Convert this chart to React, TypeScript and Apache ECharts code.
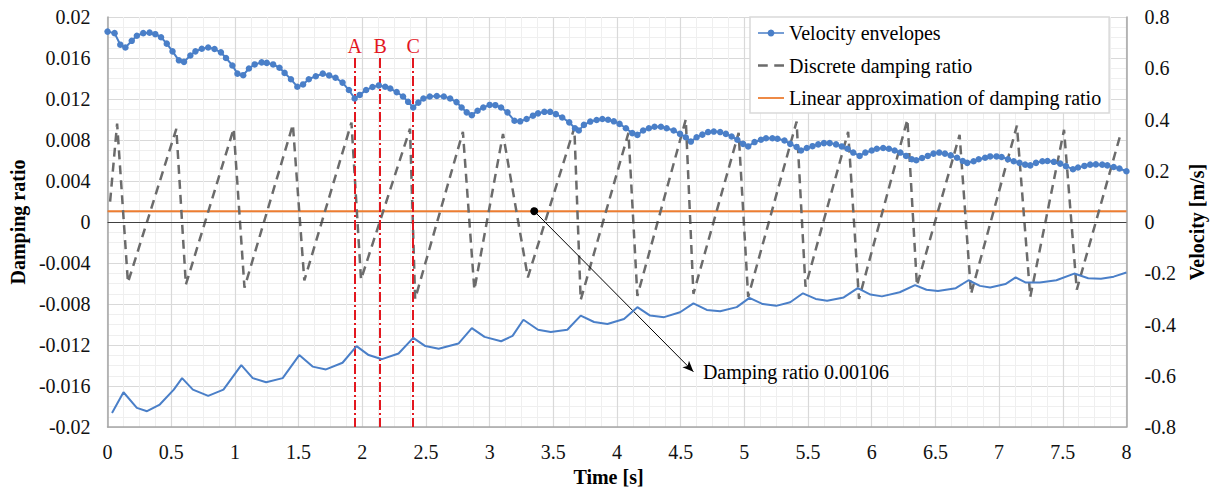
import React, { useEffect, useRef } from "react";
import * as echarts from "echarts";

// ---------- data ----------
const upperTime = [0,0.055,0.1,0.14,0.19,0.23,0.28,0.33,0.375,0.42,0.465,0.51,0.56,0.6,0.65,0.69,0.74,0.79,0.84,0.89,0.93,0.98,1.02,1.065,1.11,1.155,1.21,1.25,1.3,1.35,1.39,1.44,1.49,1.535,1.58,1.635,1.69,1.74,1.79,1.845,1.895,1.94,1.98,2.03,2.08,2.13,2.18,2.22,2.27,2.32,2.36,2.4,2.44,2.48,2.53,2.585,2.64,2.69,2.74,2.78,2.82,2.86,2.905,2.95,3.0,3.045,3.09,3.14,3.195,3.24,3.29,3.34,3.38,3.43,3.475,3.52,3.57,3.625,3.67,3.7,3.74,3.79,3.84,3.885,3.93,3.975,4.02,4.07,4.12,4.16,4.205,4.25,4.295,4.345,4.39,4.445,4.495,4.54,4.58,4.625,4.67,4.715,4.76,4.81,4.855,4.9,4.945,4.99,5.03,5.08,5.13,5.17,5.22,5.26,5.315,5.36,5.41,5.445,5.49,5.535,5.58,5.625,5.67,5.72,5.765,5.81,5.855,5.905,5.95,6.0,6.04,6.09,6.135,6.18,6.225,6.27,6.315,6.35,6.395,6.44,6.485,6.53,6.575,6.62,6.67,6.715,6.75,6.8,6.84,6.89,6.93,6.98,7.02,7.07,7.115,7.16,7.205,7.245,7.29,7.34,7.38,7.43,7.48,7.525,7.58,7.62,7.67,7.715,7.76,7.81,7.85,7.9,7.945,8.0];
const upperVelocity = [0.743,0.737,0.692,0.681,0.707,0.727,0.737,0.739,0.733,0.721,0.696,0.666,0.631,0.625,0.65,0.666,0.676,0.681,0.675,0.662,0.64,0.611,0.579,0.573,0.599,0.615,0.623,0.621,0.615,0.602,0.582,0.557,0.528,0.537,0.557,0.569,0.579,0.572,0.563,0.544,0.515,0.482,0.496,0.515,0.527,0.533,0.528,0.521,0.507,0.49,0.469,0.447,0.466,0.482,0.49,0.492,0.49,0.482,0.468,0.447,0.428,0.417,0.434,0.447,0.457,0.456,0.447,0.428,0.395,0.393,0.402,0.415,0.424,0.43,0.43,0.421,0.408,0.389,0.366,0.357,0.379,0.392,0.398,0.402,0.399,0.393,0.383,0.366,0.347,0.34,0.357,0.366,0.372,0.372,0.366,0.357,0.344,0.331,0.314,0.331,0.341,0.351,0.353,0.351,0.344,0.334,0.321,0.305,0.295,0.312,0.321,0.327,0.327,0.325,0.318,0.305,0.293,0.279,0.289,0.296,0.303,0.308,0.308,0.303,0.295,0.286,0.271,0.258,0.271,0.279,0.286,0.289,0.286,0.279,0.271,0.258,0.245,0.241,0.25,0.258,0.267,0.271,0.267,0.26,0.251,0.238,0.231,0.237,0.245,0.251,0.256,0.256,0.254,0.245,0.237,0.231,0.224,0.221,0.231,0.237,0.238,0.235,0.228,0.218,0.206,0.213,0.219,0.224,0.225,0.224,0.221,0.215,0.209,0.198];

const lowerTime = [0.035,0.125,0.23,0.31,0.41,0.52,0.585,0.67,0.79,0.91,1.05,1.14,1.245,1.375,1.505,1.61,1.715,1.845,1.955,2.05,2.155,2.285,2.4,2.495,2.6,2.755,2.86,2.96,3.09,3.18,3.265,3.38,3.48,3.61,3.715,3.82,3.925,4.055,4.16,4.26,4.37,4.495,4.6,4.705,4.81,4.94,5.04,5.145,5.25,5.36,5.46,5.56,5.65,5.78,5.89,5.99,6.08,6.22,6.34,6.43,6.52,6.66,6.76,6.85,6.93,7.05,7.13,7.21,7.32,7.45,7.59,7.7,7.8,7.9,8.0];
const lowerVelocity = [-0.745,-0.664,-0.725,-0.738,-0.712,-0.654,-0.609,-0.654,-0.678,-0.654,-0.558,-0.609,-0.625,-0.609,-0.519,-0.564,-0.575,-0.549,-0.484,-0.519,-0.535,-0.513,-0.452,-0.484,-0.494,-0.474,-0.414,-0.448,-0.465,-0.444,-0.381,-0.42,-0.429,-0.42,-0.365,-0.39,-0.398,-0.378,-0.332,-0.365,-0.371,-0.352,-0.317,-0.343,-0.348,-0.332,-0.296,-0.32,-0.327,-0.313,-0.278,-0.3,-0.307,-0.294,-0.258,-0.283,-0.29,-0.274,-0.246,-0.264,-0.269,-0.258,-0.227,-0.249,-0.255,-0.242,-0.216,-0.236,-0.236,-0.227,-0.201,-0.219,-0.221,-0.213,-0.197];

const dampTime = [0.02,0.075,0.16,0.54,0.615,0.99,1.075,1.455,1.545,1.915,1.99,2.375,2.415,2.79,2.88,3.105,3.3,3.665,3.715,4.09,4.16,4.54,4.6,4.955,5.03,5.41,5.48,5.815,5.9,6.28,6.355,6.69,6.78,7.14,7.245,7.51,7.61,7.95];
const dampRatio = [0.002,0.0096,-0.0059,0.0091,-0.0061,0.0091,-0.0064,0.0095,-0.0057,0.0097,-0.0056,0.0091,-0.0075,0.0088,-0.0066,0.0086,-0.0054,0.0092,-0.0076,0.0087,-0.0072,0.01,-0.007,0.0087,-0.0073,0.0098,-0.0063,0.0088,-0.0075,0.01,-0.0062,0.0085,-0.007,0.0094,-0.0073,0.009,-0.0066,0.0084];

const linearDamping = 0.00106;
const timeRange = [0, 8];

const markerNames = ["A", "B", "C"];
const markerTimes = [1.94, 2.14, 2.4];
const markerTop = 0.016;

const annotationFrom = [3.35, linearDamping];
const annotationTo = [4.6, -0.0146];
const annotationText = "Damping ratio 0.00106";

const seriesNames = [
  "Velocity envelopes",
  "Discrete damping ratio",
  "Linear approximation of damping ratio",
];

const FONT = "'Liberation Serif', 'Times New Roman', Times, serif";
const BLUE = "#4a7fc8";
const RED = "#e3171f";
const GRAY = "#6b6b6b";
const ORANGE = "#ed7d31";

// legend icons (drawn in a 26-wide box)
const ICON_VELOCITY =
  "path://M0,2.7 L9.6,2.7 A3.5,3.5 0 0 1 16.4,2.7 L26,2.7 L26,4.3 L16.4,4.3 A3.5,3.5 0 0 1 9.6,4.3 L0,4.3 Z";
const ICON_DASHED = "path://M0,0 L9,0 L9,2.4 L0,2.4 Z M15,0 L24,0 L24,2.4 L15,2.4 Z";
const ICON_SOLID = "path://M0,0 L26,0 L26,1.8 L0,1.8 Z";

function pairs(xs: number[], ys: number[]) {
  return xs.map((x, i) => [x, ys[i]]);
}

export default function App() {
  const ref = useRef<HTMLDivElement>(null);

  useEffect(() => {
    if (!ref.current) return;
    const chart = echarts.init(ref.current, undefined, { renderer: "svg" });

    const redLines = markerTimes.map((t, i) => [
      {
        coord: [t, markerTop],
        symbol: "none",
        lineStyle: { color: RED, width: 2, type: [10, 3, 2, 3] },
        label: {
          show: true,
          position: "start",
          formatter: markerNames[i],
          color: RED,
          fontFamily: FONT,
          fontSize: 20,
          distance: 2,
        },
      },
      { coord: [t, -0.02], symbol: "none" },
    ]);

    const option: any = {
      animation: false,
      textStyle: { fontFamily: FONT },
      grid: { left: 107, right: 83, top: 17, bottom: 61, containLabel: false },
      legend: {
        data: [
          { name: seriesNames[0], icon: ICON_VELOCITY, itemStyle: { color: BLUE } },
          { name: seriesNames[1], icon: ICON_DASHED, itemStyle: { color: GRAY } },
          { name: seriesNames[2], icon: ICON_SOLID, itemStyle: { color: ORANGE } },
        ],
        orient: "vertical",
        left: 750,
        top: 17,
        padding: [6, 8, 5, 8],
        itemGap: 12.5,
        itemWidth: 26,
        itemHeight: 12,
        symbolKeepAspect: true,
        backgroundColor: "#fff",
        borderColor: "#d9d9d9",
        borderWidth: 1.5,
        selectedMode: false,
        textStyle: { fontFamily: FONT, fontSize: 20, color: "#000", lineHeight: 20 },
      },
      xAxis: {
        type: "value",
        min: 0,
        max: 8,
        interval: 0.5,
        name: "Time [s]",
        nameLocation: "middle",
        nameGap: 33,
        nameTextStyle: { fontFamily: FONT, fontSize: 20, fontWeight: "bold", color: "#000", padding: [0, 17, 0, 0] },
        axisLine: { onZero: false, lineStyle: { color: "#a6a6a6", width: 1.5 } },
        axisTick: { show: false },
        axisLabel: { fontFamily: FONT, fontSize: 20, color: "#111", margin: 15, formatter: (v: number) => String(parseFloat(v.toFixed(2))) },
        splitLine: { show: true, lineStyle: { color: "#d9d9d9", width: 1.2 } },
        minorTick: { show: false, splitNumber: 4 },
        minorSplitLine: { show: true, lineStyle: { color: "#efefef", width: 1 } },
      },
      yAxis: [
        {
          type: "value",
          min: -0.02,
          max: 0.02,
          interval: 0.004,
          name: "Damping ratio",
          nameLocation: "middle",
          nameGap: 76,
          nameRotate: 90,
          nameTextStyle: { fontFamily: FONT, fontSize: 20, fontWeight: "bold", color: "#000" },
          axisLine: { show: true, lineStyle: { color: "#a6a6a6", width: 1.5 } },
          axisTick: { show: false },
          axisLabel: { fontFamily: FONT, fontSize: 20, color: "#111", margin: 17, formatter: (v: number) => String(parseFloat(v.toFixed(3))) },
          splitLine: { show: true, lineStyle: { color: "#d9d9d9", width: 1.2 } },
          minorTick: { show: false, splitNumber: 4 },
          minorSplitLine: { show: true, lineStyle: { color: "#efefef", width: 1 } },
        },
        {
          type: "value",
          position: "right",
          min: -0.8,
          max: 0.8,
          interval: 0.2,
          name: "Velocity [m/s]",
          nameLocation: "middle",
          nameGap: 60,
          nameRotate: 90,
          nameTextStyle: { fontFamily: FONT, fontSize: 20, fontWeight: "bold", color: "#000" },
          axisLine: { show: true, lineStyle: { color: "#a6a6a6", width: 1.5 } },
          axisTick: { show: false },
          axisLabel: { fontFamily: FONT, fontSize: 20, color: "#111", margin: 18, formatter: (v: number) => String(parseFloat(v.toFixed(1))) },
          splitLine: { show: false },
        },
      ],
      series: [
        {
          name: seriesNames[2],
          type: "line",
          yAxisIndex: 0,
          data: timeRange.map((t) => [t, linearDamping]),
          symbol: "none",
          color: ORANGE,
          lineStyle: { color: ORANGE, width: 2 },
          z: 3,
          silent: true,
          markLine: {
            silent: true,
            symbol: ["none", "none"],
            label: { show: false },
            data: [
              [
                { coord: [timeRange[0], 0], symbol: "none", lineStyle: { color: "#404040", width: 1, type: "solid" } },
                { coord: [timeRange[1], 0], symbol: "none" },
              ],
              ...redLines,
              [
                { coord: annotationFrom, symbol: "circle", symbolSize: 8, lineStyle: { color: "#000", width: 1, type: "solid" } },
                { coord: annotationTo, symbol: "arrow", symbolSize: [7, 11] },
              ],
            ],
          },
          markPoint: {
            silent: true,
            data: [
              {
                coord: annotationTo,
                symbol: "circle",
                symbolSize: 1,
                itemStyle: { color: "rgba(0,0,0,0)" },
                label: {
                  show: true,
                  position: "right",
                  distance: 9,
                  formatter: annotationText,
                  color: "#000",
                  fontFamily: FONT,
                  fontSize: 20,
                },
              },
            ],
          },
        },
        {
          name: seriesNames[1],
          type: "line",
          yAxisIndex: 0,
          data: pairs(dampTime, dampRatio),
          symbol: "none",
          color: GRAY,
          lineStyle: { color: GRAY, width: 2.5, type: [9, 6] },
          z: 4,
          silent: true,
        },
        {
          name: "Velocity envelope (lower)",
          type: "line",
          yAxisIndex: 1,
          data: pairs(lowerTime, lowerVelocity),
          symbol: "none",
          color: BLUE,
          lineStyle: { color: BLUE, width: 2 },
          z: 5,
          silent: true,
        },
        {
          name: seriesNames[0],
          type: "line",
          yAxisIndex: 1,
          data: pairs(upperTime, upperVelocity),
          symbol: "circle",
          symbolSize: 6.5,
          showAllSymbol: true,
          color: BLUE,
          itemStyle: { color: BLUE },
          lineStyle: { color: BLUE, width: 2 },
          z: 6,
          silent: true,
        },
      ],
    };

    chart.setOption(option);
    return () => chart.dispose();
  }, []);

  return (
    <div
      ref={ref}
      style={{ position: "absolute", left: 0, top: 0, width: 1215, height: 492, background: "#fff" }}
    />
  );
}
